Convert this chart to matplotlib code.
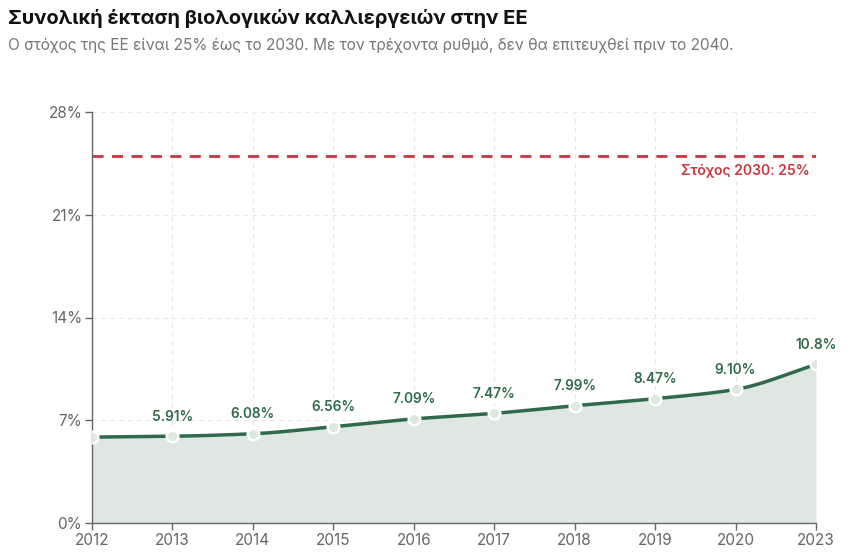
import numpy as np
import matplotlib
matplotlib.use("Agg")
import matplotlib.pyplot as plt

plt.rcParams['font.family'] = ['Inter', 'DejaVu Sans']

# data
years = ["2012", "2013", "2014", "2015", "2016", "2017", "2018", "2019", "2020", "2023"]
share = [5.85, 5.91, 6.08, 6.56, 7.09, 7.47, 7.99, 8.47, 9.10, 10.8]
labels = ["", "5.91%", "6.08%", "6.56%", "7.09%", "7.47%", "7.99%", "8.47%", "9.10%", "10.8%"]
target = 25
yticks = [0, 7, 14, 21, 28]

green = "#2f6a4b"
fillc = "#dfe7e3"
red = "#c9363d"


def monotone(x, y, n=30):
    # monotone cubic (Fritsch-Carlson) for smooth line like d3 curveMonotoneX
    x = np.asarray(x, float); y = np.asarray(y, float)
    h = np.diff(x); d = np.diff(y) / h
    m = np.zeros_like(y)
    m[0], m[-1] = d[0], d[-1]
    for i in range(1, len(y) - 1):
        if d[i - 1] * d[i] <= 0:
            m[i] = 0
        else:
            m[i] = (h[i - 1] + h[i]) * 3 / ((2 * h[i] + h[i - 1]) / d[i - 1] + (h[i] + 2 * h[i - 1]) / d[i])
    xs, ys = [], []
    for i in range(len(h)):
        t = np.linspace(0, 1, n)
        h00 = 2 * t**3 - 3 * t**2 + 1
        h10 = t**3 - 2 * t**2 + t
        h01 = -2 * t**3 + 3 * t**2
        h11 = t**3 - t**2
        xs.append(x[i] + t * h[i])
        ys.append(h00 * y[i] + h10 * h[i] * m[i] + h01 * y[i + 1] + h11 * h[i] * m[i + 1])
    return np.concatenate(xs), np.concatenate(ys)


x = np.arange(len(years))
xs, ys = monotone(x, share)

fig = plt.figure(figsize=(8.5, 5.57), dpi=100)
ax = fig.add_axes([92 / 850, 1 - 523 / 557, (816 - 92) / 850, (523 - 112) / 557])

ax.fill_between(xs, 0, ys, color=fillc, lw=0, zorder=1)
ax.plot(xs, ys, color=green, lw=2.5, zorder=3, solid_capstyle="round")
ax.scatter(x, share, s=70, facecolor=fillc, edgecolor="white", lw=1.8, zorder=4)

for xi, v, lab in zip(x, share, labels):
    if lab:
        ax.annotate(lab, (xi, v), xytext=(0, 9), textcoords="offset points",
                    ha="center", va="bottom", color=green, fontsize=9.8, fontweight="semibold")

ax.axhline(target, color=red, lw=2, ls=(0, (4, 3)), zorder=2)
ax.text(x[-1] - 0.08, target - 0.5, "Στόχος 2030: 25%", color=red, fontsize=10,
        fontweight="semibold", ha="right", va="top")

ax.set_xlim(x[0], x[-1])
ax.set_ylim(0, 28)
ax.set_xticks(x)
ax.set_xticklabels(years)
ax.set_yticks(yticks)
ax.set_yticklabels([f"{t}%" for t in yticks])
ax.grid(True, color="#e6e6e6", ls=(0, (4, 4)), lw=0.8)
ax.set_axisbelow(True)
for s in ["top", "right"]:
    ax.spines[s].set_visible(False)
for s in ["left", "bottom"]:
    ax.spines[s].set_color("#666666")
    ax.spines[s].set_linewidth(1)
ax.tick_params(colors="#666666", labelsize=11, length=5, width=1, pad=2)

fig.text(8 / 850, 1 - 18 / 557, "Συνολική έκταση βιολογικών καλλιεργειών στην ΕΕ",
         fontsize=14.4, fontweight="bold", color="#111111", va="center", ha="left")
fig.text(8 / 850, 1 - 45 / 557,
         "Ο στόχος της ΕΕ είναι 25% έως το 2030. Με τον τρέχοντα ρυθμό, δεν θα επιτευχθεί πριν το 2040.",
         fontsize=11.1, color="#777777", va="center", ha="left")

fig.savefig("out.png", dpi=100, facecolor="white")
